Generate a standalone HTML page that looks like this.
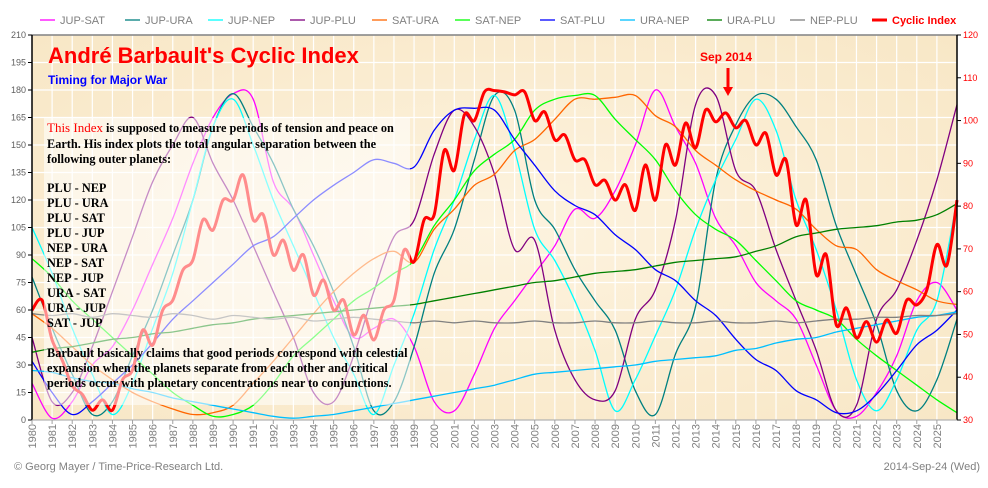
<!DOCTYPE html>
<html><head><meta charset="utf-8"><style>
body{margin:0;background:#fff;width:988px;height:488px;overflow:hidden;font-family:"Liberation Sans",sans-serif}
svg{display:block}
</style></head><body>
<svg id="chart" width="988" height="488" viewBox="0 0 988 488" xmlns="http://www.w3.org/2000/svg">
<defs>
<radialGradient id="bgGrad" cx="50%" cy="50%" r="70%">
<stop offset="0" stop-color="#fdf3df"/><stop offset="1" stop-color="#f8e7c6"/>
</radialGradient>
</defs>
<rect x="32" y="35" width="925" height="385" fill="url(#bgGrad)"/>
<g id="grid"></g>
<g id="series"></g>
<rect x="44" y="118" width="366" height="287" fill="#ffffff" opacity="0.55"/>
<g id="axes"></g>
<g id="legend"></g>

<text x="48" y="63" font-size="22" font-weight="bold" fill="#ff0000">André Barbault's Cyclic Index</text>
<text x="48" y="84" font-size="12" font-weight="bold" fill="#0000ff">Timing for Major War</text>
<g font-family="'Liberation Serif',serif" font-weight="bold" font-size="12.3" fill="#000">
<text x="47" y="132"><tspan fill="#ff0000" font-size="13" font-weight="normal">This Index</tspan> is supposed to measure periods of tension and peace on</text>
<text x="47" y="148">Earth.  His index plots the total angular separation between the</text>
<text x="47" y="163">following outer planets:</text>
<text x="47" y="192">PLU - NEP</text>
<text x="47" y="207">PLU - URA</text>
<text x="47" y="222">PLU - SAT</text>
<text x="47" y="237">PLU - JUP</text>
<text x="47" y="252">NEP - URA</text>
<text x="47" y="267">NEP - SAT</text>
<text x="47" y="282">NEP - JUP</text>
<text x="47" y="297">URA - SAT</text>
<text x="47" y="312">URA - JUP</text>
<text x="47" y="327">SAT - JUP</text>
<text x="47" y="357">Barbault basically claims that good periods correspond with celestial</text>
<text x="47" y="372">expansion when the planets separate from each other and critical</text>
<text x="47" y="387">periods occur with planetary concentrations near to conjunctions.</text>
</g>
<text x="700" y="61" font-size="12" font-weight="bold" fill="#ff0000">Sep 2014</text>
<line x1="728" y1="68" x2="728" y2="88" stroke="#ff0000" stroke-width="3"/>
<polygon points="723,87 733,87 728,96" fill="#ff0000"/>
<text x="14" y="470" font-size="11" fill="#808080">© Georg Mayer / Time-Price-Research Ltd.</text>
<text x="980" y="470" font-size="11" fill="#808080" text-anchor="end">2014-Sep-24 (Wed)</text>
</svg>
<script>
const years = [];
for (let y = 1980; y <= 2026; y++) years.push(y);
const ciYears = [];
for (let y = 1980; y <= 2026; y += 0.5) ciYears.push(y);
const leftTicks = [0,15,30,45,60,75,90,105,120,135,150,165,180,195,210];
const rightTicks = [30,40,50,60,70,80,90,100,110,120];
const seriesNames = ["JUP-SAT","JUP-URA","JUP-NEP","JUP-PLU","SAT-URA","SAT-NEP","SAT-PLU","URA-NEP","URA-PLU","NEP-PLU"];
const seriesColors = ["#ff00ff","#008080","#00ffff","#800080","#ff6600","#00ff00","#0000ff","#00bfff","#008000","#808080"];
const jupSat = [20,1,10,30,40,60,85,110,140,165,178,175,130,115,90,65,45,50,55,40,10,5,25,50,65,80,95,115,110,125,150,180,160,140,110,95,75,65,55,30,5,2,15,35,65,75,60];
const jupUra = [78,50,25,3,10,35,60,90,120,160,178,160,140,115,95,70,40,5,10,40,80,104,142,177,169,120,104,82,65,49,16,3,36,62,131,161,177,175,160,142,106,79,52,16,5,22,55];
const jupNep = [105,80,50,25,3,20,50,80,120,160,175,150,120,95,70,45,25,3,30,58,93,120,153,177,147,104,87,65,38,5,22,46,71,104,131,153,175,158,120,93,60,22,5,22,49,65,120];
const jupPlu = [45,10,15,40,70,100,130,150,165,140,120,95,70,45,15,10,35,70,100,109,145,169,160,134,93,98,49,22,11,16,55,71,109,172,177,136,125,93,65,38,5,8,55,71,98,131,172];
const satUra = [58,50,40,30,22,15,10,6,3,4,8,20,32,45,58,70,80,88,92,86,104,115,128,134,147,153,164,175,175,176,177,166,160,147,139,131,125,120,115,104,95,93,82,76,71,65,63];
const satNep = [88,78,65,55,45,35,25,15,8,2,3,8,20,35,45,55,65,72,80,87,106,120,136,145,153,169,175,177,177,164,153,142,125,112,104,98,87,76,65,60,55,44,35,27,19,11,4];
const satPlu = [32,15,3,10,20,30,42,55,65,75,85,95,100,110,120,128,135,142,140,138,158,169,170,169,153,139,125,117,112,101,93,82,76,65,57,44,33,27,16,11,4,5,14,27,41,49,60];
const uraNep = [27,26,23,21,20,17,15,12,10,8,6,4,2,1,2,3,5,7,9,11,13,15,17,19,22,25,26,27,28,29,30,32,33,34,35,38,39,42,44,45,48,50,52,54,56,57,59];
const uraPlu = [37,39,40,42,44,45,47,48,50,52,53,55,56,57,58,59,60,61,62,63,65,67,69,71,73,75,76,78,80,81,82,84,86,87,88,89,92,95,100,102,104,105,106,108,109,112,118];
const nepPlu = [58,57,58,56,58,57,56,58,57,55,57,56,55,56,54,55,56,55,54,53,54,53,54,53,53,54,53,53,54,53,53,54,53,53,54,53,53,54,53,54,55,55,56,56,57,57,58];
const seriesData = [jupSat,jupUra,jupNep,jupPlu,satUra,satNep,satPlu,uraNep,uraPlu,nepPlu];
const cyclicIndex = [55.7,58,48.7,44,38,36,32.3,34.7,32.3,39.4,41.7,51,47.5,55.7,58,65,67.4,76.8,74.4,81.4,81.4,87.3,76.8,78,68.6,72,65,68.6,59.2,62.7,55.7,58,49.9,54.5,48.7,55.7,58,69.7,67,76.8,78,93,88.4,101.3,100,106.7,107,106.7,106,106.7,100,102,95.5,96.6,90.8,90.8,85,86,81.4,85,79,89.6,81.4,94.3,89.6,99.4,93.6,102.5,99.7,101.8,98.3,100,94.3,97,87.3,90.8,75.6,81.4,64,68.6,52.2,56.2,49.2,53,48.2,53.4,50.3,58,56.9,60.4,71,66.2,81.4];

const NS = "http://www.w3.org/2000/svg";
const X0 = 32, X1 = 957, Y0 = 420, Y1 = 35;
const xScale = yr => X0 + (yr - 1980) / 46 * (X1 - X0);
const yLeft = v => Y0 - v / 210 * (Y0 - Y1);
const yRight = v => Y0 - (v - 30) / 90 * (Y0 - Y1);
function mk(tag, attrs, parent) {
  const el = document.createElementNS(NS, tag);
  for (const k in attrs) el.setAttribute(k, attrs[k]);
  parent.appendChild(el);
  return el;
}
function smoothPath(pts) {
  let d = "M" + pts[0][0].toFixed(1) + "," + pts[0][1].toFixed(1);
  for (let i = 0; i < pts.length - 1; i++) {
    const p0 = pts[i - 1] || pts[i], p1 = pts[i], p2 = pts[i + 1], p3 = pts[i + 2] || p2;
    const c1x = p1[0] + (p2[0] - p0[0]) / 6, c1y = p1[1] + (p2[1] - p0[1]) / 6;
    const c2x = p2[0] - (p3[0] - p1[0]) / 6, c2y = p2[1] - (p3[1] - p1[1]) / 6;
    d += "C" + c1x.toFixed(1) + "," + c1y.toFixed(1) + " " + c2x.toFixed(1) + "," + c2y.toFixed(1) + " " + p2[0].toFixed(1) + "," + p2[1].toFixed(1);
  }
  return d;
}
const gridG = document.getElementById("grid");
years.forEach(yr => {
  const l = mk("line", {x1: xScale(yr), x2: xScale(yr), y1: Y1, y2: Y0, stroke: "#ffffff", "stroke-width": 1.2}, gridG);
  
  
});
leftTicks.forEach(v => {
  const l = mk("line", {x1: X0, x2: X1, y1: yLeft(v), y2: yLeft(v), stroke: "#ffffff", "stroke-width": 1.2}, gridG);
  
  
});
const sg = document.getElementById("series");
seriesData.forEach((arr, i) => {
  const pts = arr.map((v, j) => [xScale(years[j]), yLeft(v)]);
  const p = mk("path", {d: smoothPath(pts), fill: "none", stroke: seriesColors[i], "stroke-width": 1.3}, sg);
  
  
});
const ciPts = cyclicIndex.map((v, j) => [xScale(ciYears[j]), yRight(v)]);
const ciPath = mk("path", {d: smoothPath(ciPts), fill: "none", stroke: "#ff0000", "stroke-width": 3}, sg);



const axG = document.getElementById("axes");
const topBorder = mk("line", {x1: X0, x2: X1, y1: Y1, y2: Y1, stroke: "#808080", "stroke-width": 1.5}, axG);


const leftAxis = mk("line", {x1: X0, x2: X0, y1: Y1, y2: Y0, stroke: "#000", "stroke-width": 1.5}, axG);


const rightAxis = mk("line", {x1: X1, x2: X1, y1: Y1, y2: Y0, stroke: "#000", "stroke-width": 1.5}, axG);


const bottomAxis = mk("line", {x1: X0, x2: X1, y1: Y0, y2: Y0, stroke: "#a0a0a0", "stroke-width": 1}, axG);


leftTicks.forEach(v => {
  const t = mk("text", {x: 26, y: yLeft(v) + 3, "font-size": 9, fill: "#606060", "text-anchor": "end"}, axG);
  t.textContent = v;
  
  
  const tk = mk("line", {x1: X0 - 4, x2: X0, y1: yLeft(v), y2: yLeft(v), stroke: "#000"}, axG);
  
  
});
rightTicks.forEach(v => {
  const t = mk("text", {x: 963, y: yRight(v) + 3, "font-size": 9, fill: "#ff0000"}, axG);
  t.textContent = v;
  
  
  const tk = mk("line", {x1: X1, x2: X1 + 4, y1: yRight(v), y2: yRight(v), stroke: "#000"}, axG);
  
  
});
years.slice(0, 46).forEach(yr => {
  const x = xScale(yr);
  const t = mk("text", {x: 0, y: 0, "font-size": 11, fill: "#808080", "text-anchor": "end", transform: "translate(" + (x + 4) + ",424) rotate(-90)"}, axG);
  t.textContent = yr;
  
  
  const tk = mk("line", {x1: x, x2: x, y1: Y0, y2: Y0 + 4, stroke: "#a0a0a0"}, axG);
  
  
});

const lg = document.getElementById("legend");
const legendX = [40,125,208,290,372,455,540,620,707,790];
seriesNames.forEach((n, i) => {
  const g = mk("g", {}, lg);
  
  
  mk("line", {x1: legendX[i], x2: legendX[i] + 15, y1: 20, y2: 20, stroke: seriesColors[i], "stroke-width": 1.3}, g);
  const t = mk("text", {x: legendX[i] + 20, y: 24, "font-size": 11, fill: "#808080"}, g);
  t.textContent = n;
});
const cg = mk("g", {}, lg);


mk("line", {x1: 872, x2: 887, y1: 20, y2: 20, stroke: "#ff0000", "stroke-width": 3}, cg);
const ct = mk("text", {x: 892, y: 24, "font-size": 11, "font-weight": "bold", fill: "#ff0000"}, cg);
ct.textContent = "Cyclic Index";
</script>
</body></html>
